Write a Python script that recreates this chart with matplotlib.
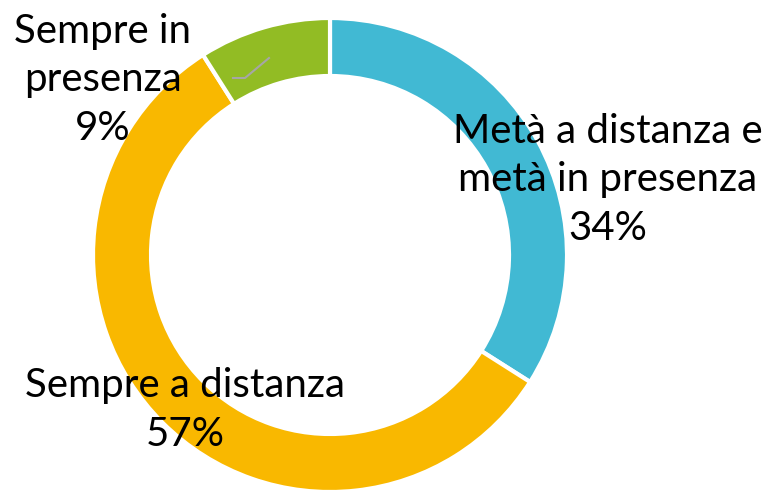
import matplotlib
matplotlib.use("Agg")
import matplotlib.pyplot as plt

categories = ["Metà a distanza e\nmetà in presenza", "Sempre a distanza", "Sempre in\npresenza"]
values = [34, 57, 9]
colors = ["#41B9D3", "#F9B800", "#92BC24"]

plt.rcParams['font.family'] = ['Lato', 'DejaVu Sans']

fig = plt.figure(figsize=(7.69, 4.92), dpi=100)
ax = fig.add_axes([0, 0, 1, 1])

cx, cy, r = 330, 492 - 255, 237
ax.pie(values, colors=colors, startangle=90, counterclock=False,
       center=(cx, cy), radius=r,
       wedgeprops=dict(width=58, edgecolor="white", linewidth=3))
ax.set_xlim(0, 769)
ax.set_ylim(0, 492)
ax.set_aspect("equal")
ax.axis("off")

# etichette (posizioni in pixel, y dall'alto)
label_pos = [(608, 180), (185, 410), (103, 80)]
for cat, val, (x, y) in zip(categories, values, label_pos):
    ax.text(x, 492 - y, f"{cat}\n{val}%", ha="center", va="center",
            fontsize=29, linespacing=1.38, color="black")

# linea guida
ax.plot([233, 245, 269], [492 - 78, 492 - 78, 492 - 58], color="#A6A6A6", lw=1.5)

fig.savefig("out.png", dpi=100)
